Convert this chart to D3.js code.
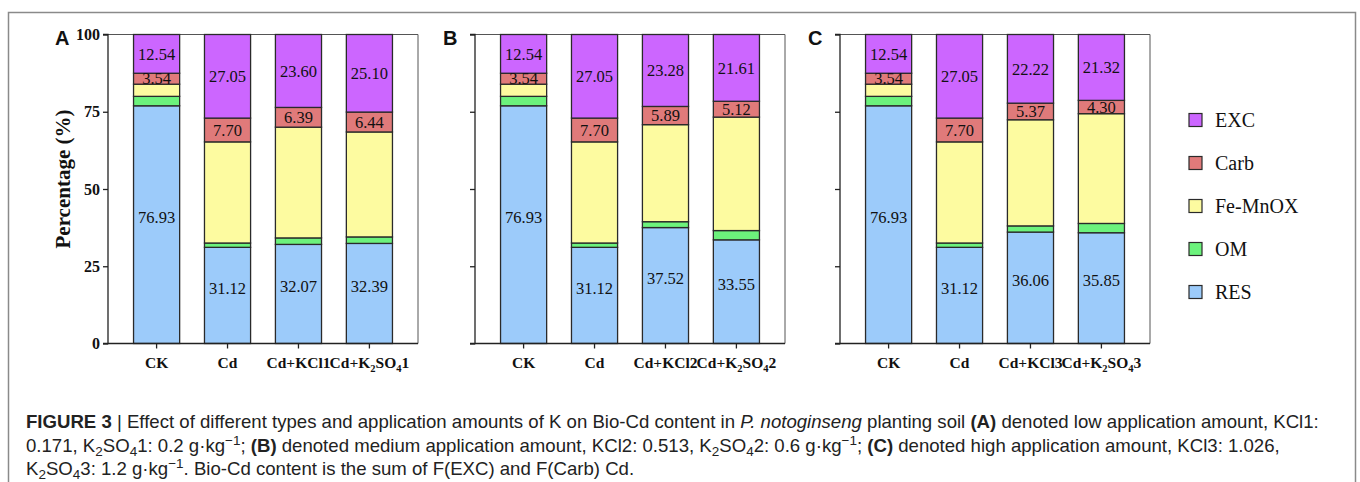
<!DOCTYPE html>
<html>
<head>
<meta charset="utf-8">
<script src="https://cdn.jsdelivr.net/npm/d3@7"></script>
<style>
  body { margin: 0; background: #fff; }
  svg { display: block; }
</style>
</head>
<body>
<div id="chart"></div>
<script>
// fractions, bottom to top
const fractions = ['RES', 'OM', 'Fe-MnOX', 'Carb', 'EXC'];
const fractionColors = ['#9ccbfa', '#6cf27c', '#fdfba0', '#e07a7a', '#cc66ff'];
const legendOrder = ['EXC', 'Carb', 'Fe-MnOX', 'OM', 'RES'];
const labelledFractions = ['RES', 'Carb', 'EXC'];

const panelLetters = ['A', 'B', 'C'];
// "_" marks a subscript digit
const groupsA = ['CK', 'Cd', 'Cd+KCl1', 'Cd+K_2SO_41'];
const groupsB = ['CK', 'Cd', 'Cd+KCl2', 'Cd+K_2SO_42'];
const groupsC = ['CK', 'Cd', 'Cd+KCl3', 'Cd+K_2SO_43'];

const resA = [76.93, 31.12, 32.07, 32.39];
const omA = [3.05, 1.40, 2.10, 2.10];
const feA = [3.94, 32.73, 35.84, 33.97];
const carbA = [3.54, 7.70, 6.39, 6.44];
const excA = [12.54, 27.05, 23.60, 25.10];

const resB = [76.93, 31.12, 37.52, 33.55];
const omB = [3.05, 1.40, 1.90, 3.00];
const feB = [3.94, 32.73, 31.41, 36.72];
const carbB = [3.54, 7.70, 5.89, 5.12];
const excB = [12.54, 27.05, 23.28, 21.61];

const resC = [76.93, 31.12, 36.06, 35.85];
const omC = [3.05, 1.40, 2.00, 3.00];
const feC = [3.94, 32.73, 34.35, 35.53];
const carbC = [3.54, 7.70, 5.37, 4.30];
const excC = [12.54, 27.05, 22.22, 21.32];

const yTicks = [0, 25, 50, 75, 100];

const panels = [
    { letter: panelLetters[0], groups: groupsA, series: [resA, omA, feA, carbA, excA], showLabels: true },
    { letter: panelLetters[1], groups: groupsB, series: [resB, omB, feB, carbB, excB], showLabels: false },
    { letter: panelLetters[2], groups: groupsC, series: [resC, omC, feC, carbC, excC], showLabels: false }
];

const W = 1360, H = 482;
const serif = '"Times New Roman", "Liberation Serif", Times, serif';
const sans = '"Liberation Sans", Arial, Helvetica, sans-serif';

const svg = d3.select('#chart').append('svg')
    .attr('width', W).attr('height', H);

// figure frame
svg.append('rect')
    .attr('x', 8.5).attr('y', 12.5)
    .attr('width', 1347).attr('height', 500)
    .attr('fill', 'none').attr('stroke', '#8a8a8a').attr('stroke-width', 1.5);

const axisLeftX = [108, 475, 840];
const plotW = 310, plotTop = 34.5, plotBottom = 343.5;

const yScale = d3.scaleLinear().domain([0, 100]).range([plotBottom, plotTop]);
const color = d3.scaleOrdinal().domain(fractions).range(fractionColors);

// renders "K_2SO_4" style text into tspans with subscripts
function richText(sel, str) {
    const parts = str.split(/(_\d)/).filter(s => s.length);
    let off = 0;
    parts.forEach(p => {
        const isSub = p[0] === '_';
        const target = isSub ? 4 : 0;
        const ts = sel.append('tspan').attr('dy', target - off).text(isSub ? p.slice(1) : p);
        if (isSub) ts.attr('font-size', '0.68em');
        off = target;
    });
}

panels.forEach((p, pi) => {
    const x0 = axisLeftX[pi];
    const g = svg.append('g');

    const xScale = d3.scaleBand().domain(p.groups)
        .range([x0, x0 + plotW]).paddingInner(0.35).paddingOuter(0.36);

    const rows = p.groups.map((grp, i) => {
        const r = { group: grp };
        fractions.forEach((f, fi) => { r[f] = p.series[fi][i]; });
        return r;
    });
    const stacked = d3.stack().keys(fractions)(rows);

    // plot box (top + right)
    g.append('path')
        .attr('d', `M${x0},${plotTop}H${x0 + plotW}V${plotBottom}`)
        .attr('fill', 'none').attr('stroke', '#555').attr('stroke-width', 1);

    const layers = g.selectAll('.layer').data(stacked).join('g')
        .attr('class', 'layer')
        .attr('fill', d => color(d.key));

    layers.selectAll('rect').data(d => d).join('rect')
        .attr('x', d => xScale(d.data.group))
        .attr('y', d => yScale(d[1]))
        .attr('width', xScale.bandwidth())
        .attr('height', d => yScale(d[0]) - yScale(d[1]))
        .attr('stroke', '#2a2a2a').attr('stroke-width', 1.3);

    // value labels
    stacked.filter(s => labelledFractions.includes(s.key)).forEach(s => {
        g.selectAll(null).data(s).join('text')
            .attr('x', d => xScale(d.data.group) + xScale.bandwidth() / 2)
            .attr('y', d => yScale((d[0] + d[1]) / 2))
            .attr('dy', s.key === 'RES' ? '-0.1em' : '0.35em')
            .attr('text-anchor', 'middle')
            .attr('font-family', serif).attr('font-size', '16.5px')
            .attr('fill', '#111')
            .text(d => (d[1] - d[0]).toFixed(2));
    });

    // axes
    const yAxis = d3.axisLeft(yScale).tickValues(yTicks).tickSize(5).tickPadding(3)
        .tickFormat(p.showLabels ? d3.format('d') : () => '');
    const ya = g.append('g').attr('transform', `translate(${x0},0)`).call(yAxis);
    ya.selectAll('path, line').attr('stroke', '#222').attr('stroke-width', 1.3);
    ya.select('.domain').attr('d', `M-5,${plotBottom}H0V${plotTop}H-5`);
    ya.selectAll('text').attr('font-family', serif).attr('font-size', '16px')
        .attr('font-weight', 'bold').attr('fill', '#111');

    const xAxis = d3.axisBottom(xScale).tickSize(5).tickPadding(6).tickFormat('');
    const xa = g.append('g').attr('transform', `translate(0,${plotBottom})`).call(xAxis);
    xa.selectAll('path, line').attr('stroke', '#222').attr('stroke-width', 1.3);
    xa.select('.domain').attr('d', `M${x0},0H${x0 + plotW}`);
    xa.selectAll('.tick').append('text')
        .attr('y', 24).attr('text-anchor', 'middle')
        .attr('font-family', serif).attr('font-size', '15.5px')
        .attr('font-weight', 'bold').attr('fill', '#111')
        .each(function (d) { richText(d3.select(this), d); });

    // panel letter
    g.append('text')
        .attr('x', p.showLabels ? x0 - 53 : x0 - 32).attr('y', 45)
        .attr('font-family', sans).attr('font-size', '20px').attr('font-weight', 'bold')
        .attr('fill', '#111').text(p.letter);

    if (p.showLabels) {
        g.append('text')
            .attr('transform', `translate(${x0 - 38},${(plotTop + plotBottom) / 2 - 10}) rotate(-90)`)
            .attr('text-anchor', 'middle')
            .attr('font-family', serif).attr('font-size', '21px').attr('font-weight', 'bold')
            .attr('fill', '#111').text('Percentage (%)');
    }
});

// legend
const legendY = d3.scalePoint().domain(legendOrder).range([120, 292]);
const legend = svg.append('g');
legendOrder.forEach(f => {
    legend.append('rect')
        .attr('x', 1189).attr('y', legendY(f) - 6.5)
        .attr('width', 13).attr('height', 13)
        .attr('fill', color(f)).attr('stroke', '#2a2a2a').attr('stroke-width', 1.2);
    legend.append('text')
        .attr('x', 1215).attr('y', legendY(f)).attr('dy', '0.35em')
        .attr('font-family', serif).attr('font-size', '20px').attr('fill', '#111')
        .text(f);
});

// caption
const captionLines = [
    [['b', 'FIGURE 3'], ['n', ' | Effect of different types and application amounts of K on Bio-Cd content in '], ['i', 'P. notoginseng'], ['n', ' planting soil '], ['b', '(A)'], ['n', ' denoted low application amount, KCl1:']],
    [['n', '0.171, K'], ['sub', '2'], ['n', 'SO'], ['sub', '4'], ['n', '1: 0.2 g·kg'], ['sup', '−1'], ['n', '; '], ['b', '(B)'], ['n', ' denoted medium application amount, KCl2: 0.513, K'], ['sub', '2'], ['n', 'SO'], ['sub', '4'], ['n', '2: 0.6 g·kg'], ['sup', '−1'], ['n', '; '], ['b', '(C)'], ['n', ' denoted high application amount, KCl3: 1.026,']],
    [['n', 'K'], ['sub', '2'], ['n', 'SO'], ['sub', '4'], ['n', '3: 1.2 g·kg'], ['sup', '−1'], ['n', '. Bio-Cd content is the sum of F(EXC) and F(Carb) Cd.']]
];
const captionY = [428, 452, 475];

captionLines.forEach((line, li) => {
    const t = svg.append('text')
        .attr('x', 26).attr('y', captionY[li])
        .attr('font-family', sans).attr('font-size', '18.6px').attr('fill', '#222');
    let off = 0;
    line.forEach(([kind, str]) => {
        const target = kind === 'sub' ? 4 : kind === 'sup' ? -7 : 0;
        const ts = t.append('tspan').attr('dy', target - off).text(str);
        off = target;
        if (kind === 'b') ts.attr('font-weight', 'bold');
        if (kind === 'i') ts.attr('font-style', 'italic');
        if (kind === 'sub' || kind === 'sup') ts.attr('font-size', '13.5px');
    });
});
</script>
</body>
</html>
